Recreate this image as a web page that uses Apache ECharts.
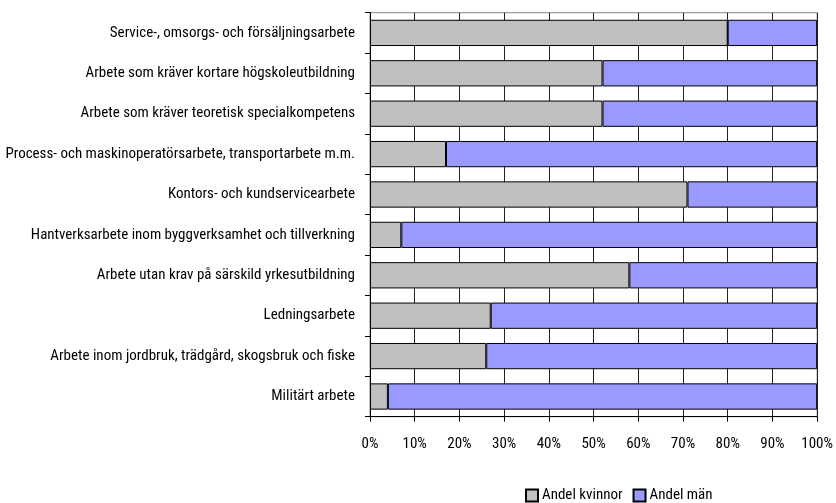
<!DOCTYPE html>
<html><head><meta charset="utf-8">
<script src="https://cdn.jsdelivr.net/npm/echarts@6/dist/echarts.min.js"></script>
<style>html,body{margin:0;padding:0;background:#fff}#c{width:836px;height:503px}</style>
</head><body><div id="c"></div>
<script>
const categories = [
  "Service-, omsorgs- och försäljningsarbete",
  "Arbete som kräver kortare högskoleutbildning",
  "Arbete som kräver teoretisk specialkompetens",
  "Process- och maskinoperatörsarbete, transportarbete m.m.",
  "Kontors- och kundservicearbete",
  "Hantverksarbete inom byggverksamhet och tillverkning",
  "Arbete utan krav på särskild yrkesutbildning",
  "Ledningsarbete",
  "Arbete inom jordbruk, trädgård, skogsbruk och fiske",
  "Militärt arbete"
];
const andelKvinnor = [80, 52, 52, 17, 71, 7, 58, 27, 26, 4];
const andelMan = [20, 48, 48, 83, 29, 93, 42, 73, 74, 96];
const seriesNames = ["Andel kvinnor", "Andel män"];

const FONT = '"Roboto Condensed", "Liberation Sans Narrow", sans-serif';
const chart = echarts.init(document.getElementById('c'), null, {renderer: 'canvas'});
chart.setOption({
  animation: false,
  textStyle: {fontFamily: FONT, color: '#000'},
  grid: {left: 370, right: 17, top: 12.7, bottom: 86.3, show: true, borderColor: '#888', borderWidth: 1, backgroundColor: 'transparent'},
  legend: {
    left: 525, top: 488, itemWidth: 12, itemHeight: 12, itemGap: 10, icon: 'rect', padding: 0,
    textStyle: {fontFamily: FONT, fontSize: 15, color: '#000', lineHeight: 14, padding: [0,0,0,-1]},
    data: seriesNames
  },
  xAxis: {
    type: 'value', min: 0, max: 100, interval: 10,
    axisLabel: {formatter: '{value}%', fontFamily: FONT, fontSize: 15, color: '#000', margin: 20},
    axisLine: {show: true, lineStyle: {color: '#000'}},
    axisTick: {show: true, length: 5, lineStyle: {color: '#000'}},
    splitLine: {show: true, lineStyle: {color: '#222', width: 1}}
  },
  yAxis: {
    type: 'category', data: categories, inverse: true,
    axisLabel: {fontFamily: FONT, fontSize: 15, color: '#000', margin: 15},
    axisLine: {show: true, lineStyle: {color: '#000'}},
    axisTick: {show: true, length: 5, lineStyle: {color: '#000'}}
  },
  series: [
    {name: seriesNames[0], type: 'bar', stack: 's', data: andelKvinnor, barCategoryGap: '35%',
     itemStyle: {color: '#c0c0c0', borderColor: '#000', borderWidth: 1}},
    {name: seriesNames[1], type: 'bar', stack: 's', data: andelMan, barCategoryGap: '35%',
     itemStyle: {color: '#9999ff', borderColor: '#000', borderWidth: 1}}
  ]
});
</script></body></html>
